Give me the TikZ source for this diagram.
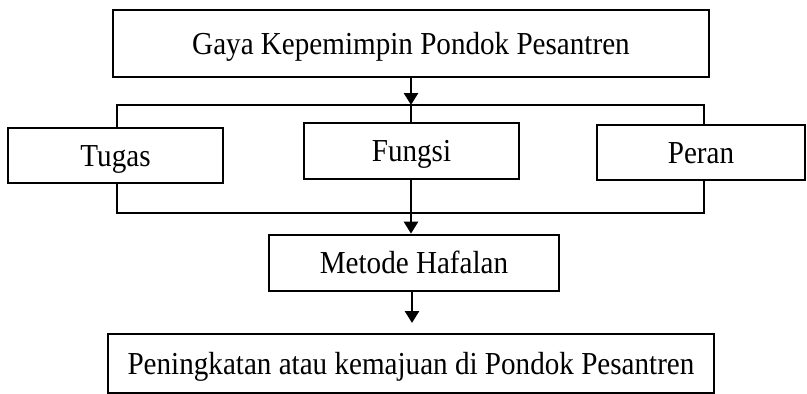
\documentclass[tikz,border=0pt]{standalone}
\usepackage{fontspec}
\setmainfont{Liberation Serif}[FakeStretch=0.91]
\usetikzlibrary{arrows.meta}

\tikzset{
  box/.style={draw=black, line width=2.7pt, inner sep=0pt, align=center,
    font=\fontsize{32}{38}\selectfont, text height=28pt, text depth=7pt},
  conn/.style={draw=black, line width=2pt},
  arr/.style={draw=black, line width=2.6pt,
    -{Triangle[length=12pt,width=14pt]}},
}

\begin{document}
\begin{tikzpicture}[x=1pt,y=-1pt]
  \useasboundingbox (0,0) rectangle (807,394);

  % boxes
  \node[box, minimum width=596pt, minimum height=67pt] (gaya) at (411,43.5)
    {Gaya Kepemimpin Pondok Pesantren};
  \node[box, minimum width=215pt, minimum height=55pt] (tugas) at (115.5,155.5)
    {Tugas};
  \node[box, minimum width=215pt, minimum height=56pt] (fungsi) at (411.5,151)
    {Fungsi};
  \node[box, minimum width=208pt, minimum height=55pt] (peran) at (701,152.5)
    {Peran};
  \node[box, minimum width=290pt, minimum height=56pt] (metode) at (414,263)
    {Metode Hafalan};
  \node[box, minimum width=606pt, minimum height=59pt] (hasil) at (411,363.5)
    {Peningkatan atau kemajuan di Pondok Pesantren};

  % bracket lines joining the three middle boxes
  \coordinate (tl) at (117,105);
  \coordinate (tr) at (704,105);
  \coordinate (bl) at (117,213);
  \coordinate (br) at (704,213);
  \coordinate (jt) at (411,105);
  \coordinate (tip) at (412,323);

  \draw[conn] (tugas.north -| tl) -- (tl) -- (tr) -- (peran.north -| tr);
  \draw[conn] (tugas.south -| bl) -- (bl) -- (br) -- (peran.south -| br);

  % arrows
  \draw[arr] (gaya.south -| jt) -- (jt);
  \draw[draw=black, line width=2.6pt] (jt) -- (fungsi.north -| jt);
  \draw[arr] (fungsi.south -| jt) -- (metode.north -| jt);
  \draw[arr] (metode.south -| tip) -- (tip);
\end{tikzpicture}
\end{document}
